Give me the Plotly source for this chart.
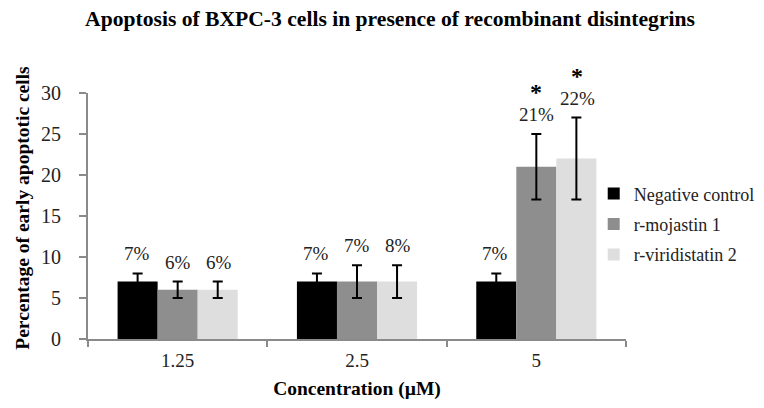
import plotly.graph_objects as go

categories = ["1.25", "2.5", "5"]
series_names = ["Negative control", "r-mojastin 1", "r-viridistatin 2"]
neg_values = [7, 7, 7]
neg_errors = [1, 1, 1]
moj_values = [6, 7, 21]
moj_errors = [1, 2, 4]
vir_values = [6, 7, 22]
vir_errors = [1, 2, 5]
neg_labels = ["7%", "7%", "7%"]
moj_labels = ["6%", "7%", "21%"]
vir_labels = ["6%", "8%", "22%"]
moj_signif = ["", "", "*"]
vir_signif = ["", "", "*"]
y_ticks = [0, 5, 10, 15, 20, 25, 30]

colors = ["#000000", "#8e8e8e", "#dedede"]
FONT = "Liberation Serif, Times New Roman, serif"

W, H = 764, 408
ML, MR, MT, MB = 80, 132, 85, 77
BARGAP = 0.33

values = [neg_values, moj_values, vir_values]
errors = [neg_errors, moj_errors, vir_errors]
labels = [neg_labels, moj_labels, vir_labels]
signif = [["", "", ""], moj_signif, vir_signif]

fig = go.Figure()
for i, name in enumerate(series_names):
    fig.add_trace(go.Bar(
        x=categories, y=values[i], name=name,
        marker=dict(color=colors[i], line=dict(width=0)),
        error_y=dict(type="data", array=errors[i], visible=True,
                     color="#000000", thickness=2, width=5),
        legendgroup=name,
    ))

plot_w = W - ML - MR
plot_h = H - MT - MB
cat_w = plot_w / len(categories)
bar_w = cat_w * (1 - BARGAP) / len(series_names)

annotations = []
for i in range(len(series_names)):
    shift = (i - (len(series_names) - 1) / 2) * bar_w
    for j, c in enumerate(categories):
        top = values[i][j] + errors[i][j]
        annotations.append(dict(
            x=j, y=top, xref="x", yref="y", text=labels[i][j],
            showarrow=False, xshift=shift, yshift=7, yanchor="bottom",
            font=dict(family=FONT, size=19, color="#222"),
        ))
        if signif[i][j]:
            annotations.append(dict(
                x=j, y=top, xref="x", yref="y", text="<b>" + signif[i][j] + "</b>",
                showarrow=False, xshift=shift, yshift=27, yanchor="bottom",
                font=dict(family=FONT, size=24, color="#000"),
            ))

# y-axis title as rotated text
annotations.append(dict(
    x=(12 - ML) / plot_w, xref="paper", y=(H - MB - 200) / plot_h, yref="paper",
    text="<b>Percentage of early apoptotic cells</b>",
    textangle=-90, showarrow=False, xanchor="center", yanchor="middle",
    font=dict(family=FONT, size=19.5, color="#000"),
))

fig.update_layout(
    width=W, height=H,
    margin=dict(l=ML, r=MR, t=MT, b=MB),
    paper_bgcolor="white", plot_bgcolor="white",
    barmode="group", bargap=BARGAP, bargroupgap=0,
    title=dict(text="<b>Apoptosis of BXPC-3 cells in presence of recombinant disintegrins</b>",
               x=0.5, xanchor="center", xref="container", y=0.993, yanchor="top",
               font=dict(family=FONT, size=21.6, color="#000")),
    font=dict(family=FONT, size=18, color="#222"),
    legend=dict(x=0.94, xanchor="left", y=0.665, yanchor="top",
                font=dict(family=FONT, size=18, color="#222"),
                tracegroupgap=4, bgcolor="rgba(0,0,0,0)"),
    annotations=annotations,
    xaxis=dict(
        type="category", range=[-0.5, len(categories) - 0.5],
        showline=True, linecolor="#8a8a8a", linewidth=2,
        ticks="outside", tickson="boundaries", ticklen=6, tickcolor="#8a8a8a",
        tickwidth=1.5, tickfont=dict(family=FONT, size=19, color="#222"),
        ticklabelstandoff=3,
        title=dict(text="<b>Concentration (µM)</b>", standoff=12,
                   font=dict(family=FONT, size=19.5, color="#000")),
        showgrid=False, automargin=False,
    ),
    yaxis=dict(
        range=[0, 30], tickvals=y_ticks, showline=True, linecolor="#8a8a8a",
        linewidth=2, ticks="outside", ticklen=7, tickcolor="#8a8a8a", tickwidth=1.5,
        tickfont=dict(family=FONT, size=20, color="#222"), showgrid=False,
        ticklabelstandoff=14, zeroline=False, automargin=False,
    ),
)

fig.write_html("out.html")
